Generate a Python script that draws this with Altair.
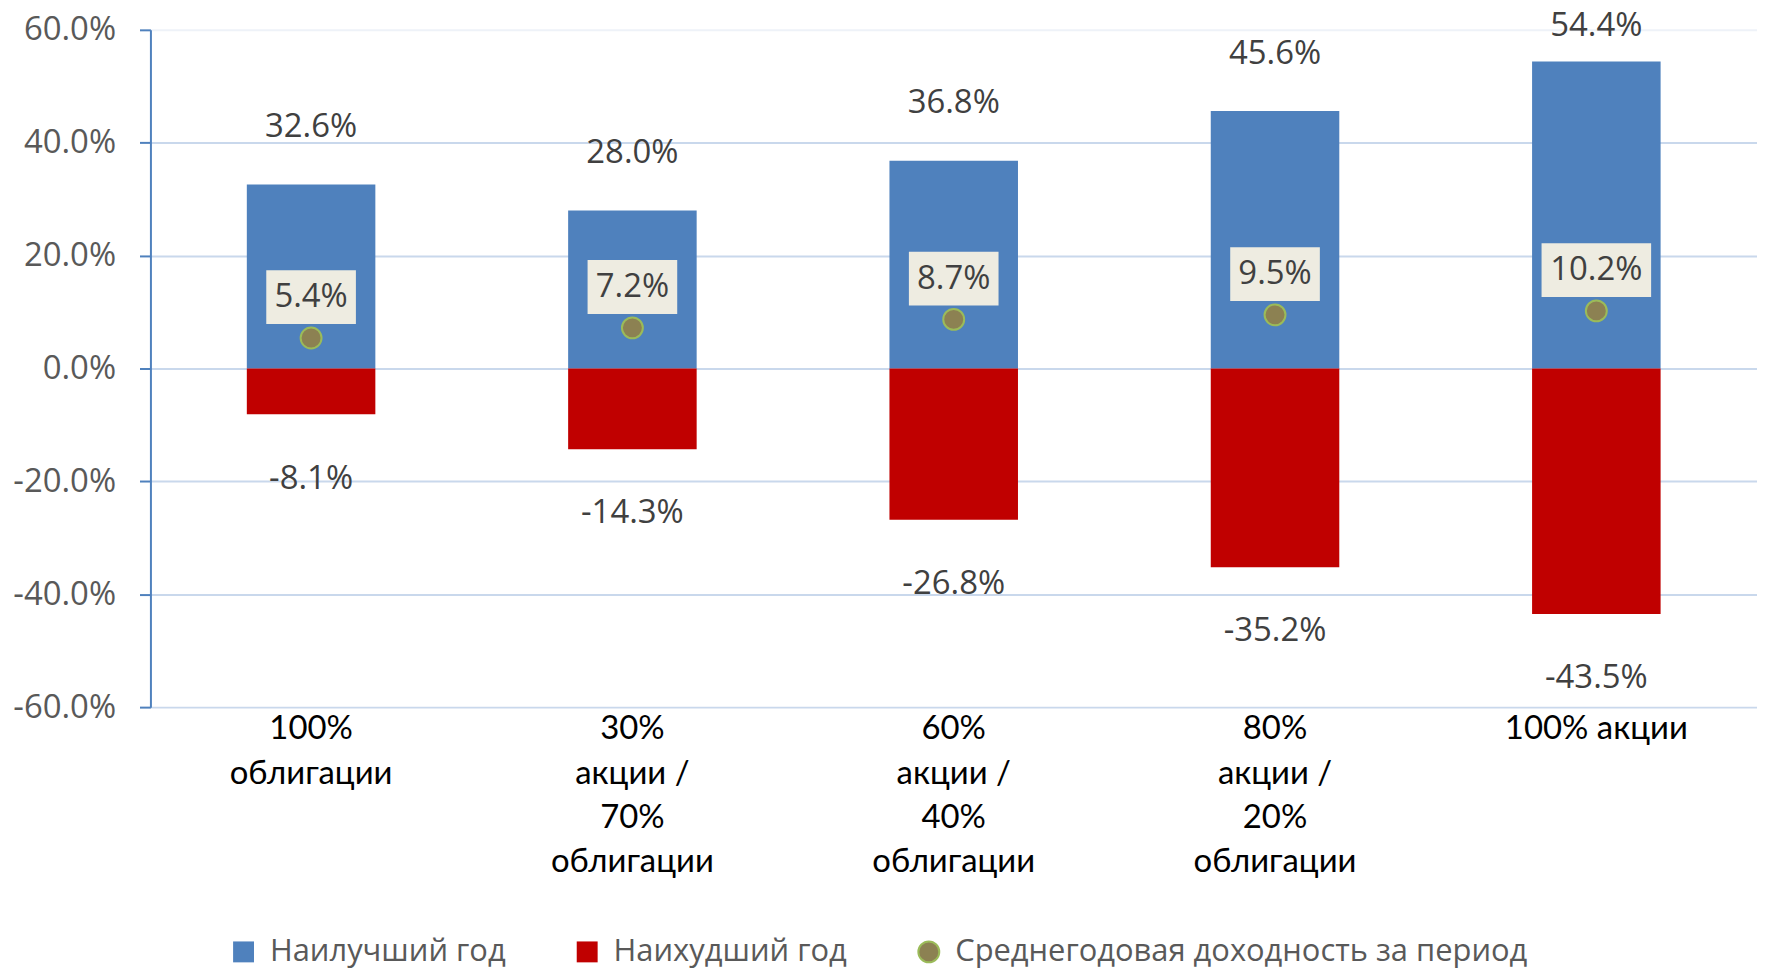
import altair as alt
import pandas as pd

categories = [
    "100%\nоблигации",
    "30%\nакции /\n70%\nоблигации",
    "60%\nакции /\n40%\nоблигации",
    "80%\nакции /\n20%\nоблигации",
    "100% акции",
]
best = [32.6, 28.0, 36.8, 45.6, 54.4]
worst = [-8.1, -14.3, -26.8, -35.2, -43.5]
average = [5.4, 7.2, 8.7, 9.5, 10.2]
series_names = ["Наилучший год", "Наихудший год", "Среднегодовая доходность за период"]
y_ticks = [-60, -40, -20, 0, 20, 40, 60]

bars_df = pd.DataFrame({
    "category": categories * 2,
    "series": [series_names[0]] * len(categories) + [series_names[1]] * len(categories),
    "value": best + worst,
})
avg_df = pd.DataFrame({
    "category": categories,
    "series": [series_names[2]] * len(categories),
    "value": average,
})

PCT = "(datum.value < 0 ? '-' : '') + format(abs(datum.value), '.1f') + '%'"

x_enc = alt.X(
    "category:N",
    sort=categories,
    title=None,
    scale=alt.Scale(paddingInner=0.6, paddingOuter=0.3),
    axis=alt.Axis(
        labelExpr="split(datum.label, '\\n')",
        labelAngle=0,
        labelFont="Lato, Open Sans",
        labelFontSize=33,
        labelColor="#000000",
        labelLineHeight=44.5,
        labelBaseline="top",
        labelPadding=6,
        labelLimit=0,
        ticks=False,
        domain=False,
        grid=False,
    ),
)
y_scale = alt.Scale(domain=[-60, 60], nice=False, zero=False)
y_axis = alt.Axis(
    values=y_ticks,
    labelExpr=PCT,
    labelFont="Open Sans",
    labelFontSize=33,
    labelColor="#595959",
    labelPadding=24,
    tickSize=11,
    tickWidth=2,
    tickColor="#4F81BD",
    domainColor="#4F81BD",
    domainWidth=2,
    grid=True,
    gridColor={"condition": {"test": "datum.value == 60", "value": "#EEF2F8"}, "value": "#C9D8EC"},
    gridWidth=2,
)
y_enc = alt.Y("value:Q", scale=y_scale, axis=y_axis, title=None)
y_plain = alt.Y("value:Q", scale=y_scale, title=None)

color_scale = alt.Scale(domain=series_names, range=["#4F81BD", "#C00000", "#8C8152"])

bars = alt.Chart(bars_df).mark_bar().encode(
    x=x_enc,
    y=y_enc,
    color=alt.Color("series:N", scale=color_scale, title=None),
)

top_labels = (
    alt.Chart(bars_df)
    .transform_filter(alt.datum.value > 0)
    .transform_calculate(ly="min(datum.value + 10.2, 60.7)", lbl=PCT)
    .mark_text(font="Open Sans", fontSize=33, color="#404040", baseline="middle")
    .encode(x=alt.X("category:N", sort=categories), y=alt.Y("ly:Q", scale=y_scale), text="lbl:N")
)
bottom_labels = (
    alt.Chart(bars_df)
    .transform_filter(alt.datum.value < 0)
    .transform_calculate(ly="datum.value - 11.4", lbl=PCT)
    .mark_text(font="Open Sans", fontSize=33, color="#404040", baseline="middle")
    .encode(x=alt.X("category:N", sort=categories), y=alt.Y("ly:Q", scale=y_scale), text="lbl:N")
)

box_short = (
    alt.Chart(avg_df)
    .transform_calculate(lbl=PCT)
    .transform_filter("length(datum.lbl) < 5")
    .mark_point(shape="M-1,-0.6H1V0.6H-1Z", size=8100, filled=True, fill="#EEECE1",
                opacity=1, strokeWidth=0, yOffset=-41)
    .encode(x=alt.X("category:N", sort=categories), y=y_plain)
)
box_long = (
    alt.Chart(avg_df)
    .transform_calculate(lbl=PCT)
    .transform_filter("length(datum.lbl) >= 5")
    .mark_point(shape="M-1,-0.49H1V0.49H-1Z", size=12100, filled=True, fill="#EEECE1",
                opacity=1, strokeWidth=0, yOffset=-41)
    .encode(x=alt.X("category:N", sort=categories), y=y_plain)
)
avg_labels = (
    alt.Chart(avg_df)
    .transform_calculate(lbl=PCT)
    .mark_text(font="Open Sans", fontSize=33, color="#404040", baseline="middle", yOffset=-41)
    .encode(x=alt.X("category:N", sort=categories), y=y_plain, text="lbl:N")
)

legend_stroke = "datum.value === '" + series_names[2] + "' ? '#9BBB59' : 'transparent'"
dots = alt.Chart(avg_df).mark_point(filled=True, opacity=1, stroke="#9BBB59", strokeWidth=2).encode(
    x=alt.X("category:N", sort=categories),
    y=y_plain,
    color=alt.Color(
        "series:N", scale=color_scale, title=None,
        legend=alt.Legend(symbolStrokeColor={"expr": legend_stroke}, symbolStrokeWidth=2),
    ),
    shape=alt.Shape("series:N", scale=alt.Scale(domain=series_names, range=["square", "square", "circle"]), title=None),
    size=alt.Size("series:N", scale=alt.Scale(domain=series_names, range=[441, 441, 154]), title=None),
)

chart = (
    alt.layer(bars, top_labels, bottom_labels, box_short, box_long, avg_labels, dots)
    .properties(
        width=1613,
        height=680,
        autosize=alt.AutoSizeParams(type="none"),
        padding={"left": 143, "top": 20, "right": 0, "bottom": 262},
    )
    .configure_view(strokeWidth=0)
    .configure_legend(
        orient="none",
        legendX=78,
        legendY=910,
        direction="horizontal",
        labelFont="Open Sans",
        labelFontSize=31,
        labelColor="#595959",
        labelLimit=0,
        labelOffset=11,
        columnPadding=66,
    )
)

chart.save("out.html", embed_options={"renderer": "svg", "actions": False})
